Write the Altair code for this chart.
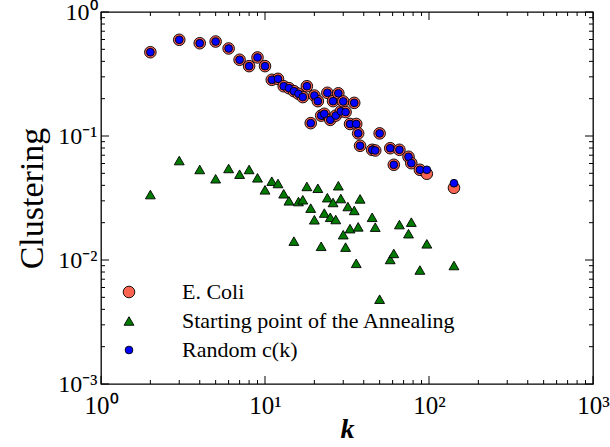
import altair as alt
import pandas as pd

# ---- data ----
ecoli_k = [2, 3, 4, 5, 6, 7, 8, 9, 10, 11, 12, 13, 14, 15, 16, 17, 18, 19, 20, 21,
           22, 23, 24, 25, 26, 27, 28, 29, 30, 31, 33, 35, 36, 37, 38, 45, 47, 50,
           58, 61, 66, 75, 78, 88, 97, 142]
ecoli_c = [0.474, 0.597, 0.560, 0.578, 0.508, 0.412, 0.366, 0.430, 0.366, 0.284,
           0.289, 0.252, 0.243, 0.230, 0.219, 0.206, 0.252, 0.127, 0.212, 0.191,
           0.146, 0.151, 0.223, 0.135, 0.191, 0.146, 0.221, 0.158, 0.190, 0.156,
           0.125, 0.185, 0.125, 0.105, 0.0834, 0.0774, 0.0764, 0.105, 0.0797, 0.0586,
           0.0774, 0.068, 0.0604, 0.0534, 0.0496, 0.0382]
random_k = ecoli_k
random_c = [0.474, 0.597, 0.560, 0.578, 0.508, 0.412, 0.366, 0.430, 0.366, 0.284,
            0.289, 0.252, 0.243, 0.230, 0.219, 0.206, 0.252, 0.127, 0.212, 0.191,
            0.146, 0.151, 0.223, 0.135, 0.191, 0.146, 0.221, 0.158, 0.190, 0.156,
            0.125, 0.185, 0.125, 0.105, 0.0834, 0.0774, 0.0764, 0.105, 0.0797, 0.0586,
            0.0774, 0.068, 0.0604, 0.0534, 0.0534, 0.0416]
start_k = [2, 3, 4, 5, 6, 7, 8, 9, 10, 11, 12, 13, 14, 15, 16, 17, 18, 19, 20, 21,
           22, 23, 24, 25, 26, 27, 28, 29, 30, 31, 32, 33, 35, 36, 37, 38, 45, 47,
           50, 58, 61, 66, 75, 78, 88, 97, 142]
start_c = [0.0337, 0.0634, 0.0537, 0.0452, 0.0547, 0.0492, 0.0537, 0.046, 0.0368,
           0.0432, 0.0414, 0.0342, 0.030, 0.0142, 0.0296, 0.0306, 0.0392, 0.0262,
           0.0211, 0.0379, 0.0129, 0.0239, 0.0318, 0.0221, 0.0291, 0.0212, 0.0397,
           0.0313, 0.016, 0.0127, 0.027, 0.0179, 0.0251, 0.0094, 0.0185, 0.0311,
           0.0221, 0.0184, 0.00483, 0.0101, 0.0113, 0.0193, 0.0163, 0.0202, 0.0083,
           0.0135, 0.00903]

series_names = ["E. Coli", "Starting point of the Annealing", "Random c(k)"]
series_colors = ["#fa6450", "#007a00", "#0000ff"]
series_shapes = ["circle", "triangle-up", "circle"]
series_sizes = [135, 60, 48]

x_tick_values = [1, 10, 100, 1000]
x_tick_labels = ["10\u2070", "10\u00b9", "10\u00b2", "10\u00b3"]
y_tick_values = [0.001, 0.01, 0.1, 1]
y_tick_labels = ["10\u207b\u00b3", "10\u207b\u00b2", "10\u207b\u00b9", "10\u2070"]
minor_mult = [2, 3, 4, 5, 6, 7, 8, 9]

W, H = 492, 372
FONT = "Liberation Serif"

# ---- tables ----
df = pd.concat([
    pd.DataFrame({"k": ecoli_k, "c": ecoli_c, "series": series_names[0]}),
    pd.DataFrame({"k": start_k, "c": start_c, "series": series_names[1]}),
    pd.DataFrame({"k": random_k, "c": random_c, "series": series_names[2]}),
], ignore_index=True)
df["ord"] = df["series"].map({n: i for i, n in enumerate(series_names)})

x_major = pd.DataFrame({"v": x_tick_values})
x_minor = pd.DataFrame({"v": [m * d for d in x_tick_values[:-1] for m in minor_mult]})
y_major = pd.DataFrame({"v": y_tick_values})
y_minor = pd.DataFrame({"v": [m * d for d in y_tick_values[:-1] for m in minor_mult]})

xscale = alt.Scale(type="log", domain=[1, 1000], nice=False)
yscale = alt.Scale(type="log", domain=[0.001, 1], nice=False)


def label_expr(values, labels):
    expr = "''"
    for v, l in zip(values, labels):
        expr = f"abs(log(datum.value) - log({v})) < 0.01 ? '{l}' : " + expr
    return expr


xaxis = alt.Axis(values=x_tick_values, labelExpr=label_expr(x_tick_values, x_tick_labels),
                 ticks=False, domain=False, grid=False, labelFlush=False, labelOverlap=False,
                 labelFontSize=25, labelPadding=9, labelFont=FONT, labelColor="black",
                 title="k", titleFont=FONT, titleFontSize=28, titleFontStyle="italic",
                 titleFontWeight="bold", titlePadding=-3, titleColor="black")
yaxis = alt.Axis(values=y_tick_values, labelExpr=label_expr(y_tick_values, y_tick_labels),
                 ticks=False, domain=False, grid=False, labelFlush=False, labelOverlap=False,
                 labelFontSize=24, labelPadding=4, labelFont=FONT, labelColor="black",
                 title="Clustering", titleFont=FONT, titleFontSize=34,
                 titleFontWeight="normal", titlePadding=8, titleColor="black")

points = alt.Chart(df).mark_point(filled=True, opacity=1, stroke="black", strokeWidth=0.9).encode(
    x=alt.X("k:Q", scale=xscale, axis=xaxis),
    y=alt.Y("c:Q", scale=yscale, axis=yaxis),
    color=alt.Color("series:N", scale=alt.Scale(domain=series_names, range=series_colors),
                    legend=alt.Legend(title=None, orient="none", legendX=17, legendY=269,
                                      labelFont=FONT, labelFontSize=22, labelColor="black",
                                      labelLimit=0,
                                      symbolStrokeColor="black", symbolStrokeWidth=0.9,
                                      rowPadding=7, labelOffset=42, padding=0)),
    shape=alt.Shape("series:N", scale=alt.Scale(domain=series_names, range=series_shapes)),
    size=alt.Size("series:N", scale=alt.Scale(domain=series_names, range=series_sizes)),
    order=alt.Order("ord:Q"),
)


def xticks(data, length, top):
    if top:
        y1, y2 = 0, length
    else:
        y1, y2 = H, H - length
    return alt.Chart(data).mark_rule(color="black", strokeWidth=1).encode(
        x=alt.X("v:Q", scale=xscale, axis=xaxis), y=alt.value(y1), y2=alt.value(y2))


def yticks(data, length, right):
    if right:
        x1, x2 = W, W - length
    else:
        x1, x2 = 0, length
    return alt.Chart(data).mark_rule(color="black", strokeWidth=1).encode(
        y=alt.Y("v:Q", scale=yscale, axis=yaxis), x=alt.value(x1), x2=alt.value(x2))


ticks = [
    xticks(x_major, 8, False), xticks(x_minor, 4, False),
    xticks(x_major, 8, True), xticks(x_minor, 4, True),
    yticks(y_major, 8, False), yticks(y_minor, 4, False),
    yticks(y_major, 8, True), yticks(y_minor, 4, True),
]

chart = alt.layer(points, *ticks).properties(
    width=W, height=H,
    autosize=alt.AutoSizeParams(type="none"),
    padding={"left": 101, "top": 12, "right": 17, "bottom": 63},
    background="white",
).configure_view(stroke="black", strokeWidth=1.3)

chart.save("out.html", embed_options={"renderer": "svg", "actions": False})
